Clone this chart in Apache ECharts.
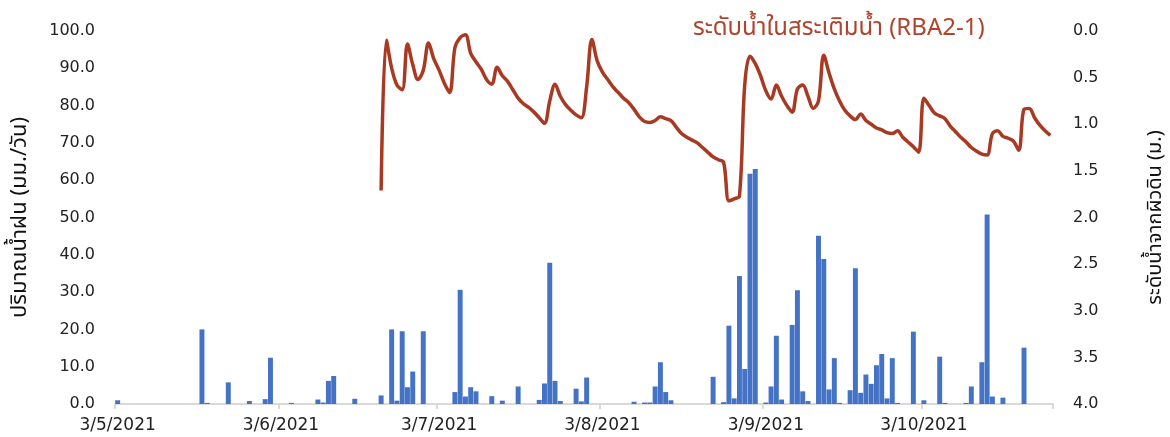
<!DOCTYPE html>
<html>
<head>
<meta charset="utf-8">
<script src="https://cdn.jsdelivr.net/npm/echarts@6/dist/echarts.min.js"></script>
<style>
  html, body { margin: 0; padding: 0; background: #fff; }
  #chart { width: 1170px; height: 437px; }
</style>
</head>
<body>
<div id="chart"></div>
<script>
// Daily series from 3 May 2021 to 27 Oct 2021 (178 days)
const startYear = 2021, startMonth = 5, startDay = 3, dayCount = 178;

// Daily rainfall (mm/day), keyed by day offset from the start date
const rainDays = [0, 16, 17, 21, 25, 28, 29, 33, 38, 39, 40, 41, 45, 50, 52, 53, 54, 55, 56, 58,
  64, 65, 66, 67, 68, 71, 73, 76, 80, 81, 82, 83, 84, 87, 88, 89, 98, 100, 101, 102, 103, 104, 105,
  113, 115, 116, 117, 118, 119, 120, 121, 123, 124, 125, 126, 128, 129, 130, 131, 133, 134, 135, 136, 137,
  139, 140, 141, 142, 143, 144, 145, 146, 147, 148, 151, 153, 156, 157, 161, 162, 164, 165, 166, 168, 172];
const rainValues = [1.0, 20.0, 0.3, 5.8, 0.8, 1.3, 12.4, 0.3, 1.2, 0.4, 6.2, 7.5, 1.4, 2.3, 20.0, 0.9, 19.5, 4.5, 8.7, 19.5,
  3.2, 30.6, 2.0, 4.5, 3.4, 2.1, 0.9, 4.7, 1.1, 5.5, 37.9, 6.2, 0.8, 4.1, 0.7, 7.1, 0.6, 0.4, 0.4, 4.7, 11.2, 3.2, 1.0,
  7.3, 0.5, 21.0, 1.5, 34.3, 9.4, 61.7, 63.0, 0.4, 4.7, 18.3, 1.2, 21.2, 30.5, 3.4, 0.8, 45.1, 38.9, 3.9, 12.3, 0.3,
  3.7, 36.4, 3.0, 7.9, 5.4, 10.4, 13.4, 1.5, 12.3, 0.3, 19.4, 1.0, 12.7, 0.3, 0.3, 4.7, 11.2, 50.8, 2.0, 1.7, 15.1];

// Water level below ground (m), recorded from day offset 50 onwards
const levelStart = 50;
const levelValues = [
  1.71, 0.10, 0.40, 0.58, 0.63, 0.14, 0.36, 0.52, 0.42, 0.13,
  0.30, 0.42, 0.56, 0.66, 0.18, 0.07, 0.04, 0.24, 0.33, 0.41,
  0.52, 0.57, 0.39, 0.48, 0.54, 0.63, 0.72, 0.78, 0.82, 0.87,
  0.93, 0.99, 0.75, 0.57, 0.70, 0.79, 0.85, 0.90, 0.93, 0.60,
  0.09, 0.32, 0.44, 0.52, 0.60, 0.66, 0.72, 0.77, 0.84, 0.92,
  0.97, 0.98, 0.96, 0.92, 0.94, 0.96, 1.03, 1.10, 1.14, 1.17,
  1.20, 1.25, 1.30, 1.35, 1.38, 1.41, 1.82, 1.80, 1.77, 0.58,
  0.27, 0.35, 0.48, 0.64, 0.73, 0.58, 0.70, 0.80, 0.87, 0.62,
  0.58, 0.70, 0.83, 0.75, 0.26, 0.45, 0.62, 0.75, 0.85, 0.91,
  0.95, 0.89, 0.96, 1.00, 1.04, 1.06, 1.09, 1.10, 1.07, 1.14,
  1.19, 1.24, 1.30, 0.72, 0.80, 0.88, 0.91, 0.94, 1.02, 1.08,
  1.14, 1.19, 1.25, 1.29, 1.32, 1.33, 1.10, 1.07, 1.13, 1.15,
  1.18, 1.28, 0.84, 0.83, 0.93, 1.01, 1.07, 1.12];

const titleText = 'ระดับน้ำในสระเติมน้ำ (RBA2-1)';
const leftAxisName = 'ปริมาณน้ำฝน (มม./วัน)';
const rightAxisName = 'ระดับน้ำจากผิวดิน (ม.)';

// Category labels in d/m/yyyy form
const categories = [];
for (let i = 0; i < dayCount; i++) {
  const dt = new Date(Date.UTC(startYear, startMonth - 1, startDay + i));
  categories.push(dt.getUTCDate() + '/' + (dt.getUTCMonth() + 1) + '/' + dt.getUTCFullYear());
}

const rain = new Array(dayCount).fill(0);
rainDays.forEach((d, k) => { rain[d] = rainValues[k]; });

const level = new Array(dayCount).fill(null);
levelValues.forEach((v, k) => { level[levelStart + k] = v; });

const isMonthTick = (idx, val) => val.split('/')[0] === '3';

const FONT = '"DejaVu Sans", "Noto Sans", sans-serif';
const THAI_FONT = '"Noto Sans Thai", "Noto Sans", "DejaVu Sans", sans-serif';

const chart = echarts.init(document.getElementById('chart'), null, { renderer: 'canvas' });
chart.setOption({
  animation: false,
  backgroundColor: '#ffffff',
  title: {
    text: titleText,
    left: 688,
    top: 13,
    textStyle: { color: '#B0432B', fontSize: 24, fontWeight: 'normal', fontFamily: THAI_FONT }
  },
  grid: { left: 115, right: 117, top: 31, bottom: 33, outerBoundsMode: 'none', containLabel: false },
  xAxis: {
    type: 'category',
    data: categories,
    boundaryGap: true,
    axisLine: { lineStyle: { color: '#D9D9D9', width: 2 } },
    axisTick: { show: true, interval: isMonthTick, length: 5, lineStyle: { color: '#D9D9D9', width: 2 } },
    axisLabel: { interval: isMonthTick, color: '#222', fontSize: 17, fontFamily: FONT, margin: 13 },
    splitLine: { show: false }
  },
  yAxis: [
    {
      type: 'value',
      min: 0, max: 100, interval: 10,
      name: leftAxisName,
      nameLocation: 'middle',
      nameRotate: 90,
      nameGap: 82,
      nameTextStyle: { color: '#111', fontSize: 22, fontFamily: THAI_FONT },
      axisLine: { show: false },
      axisTick: { show: false },
      splitLine: { show: false },
      axisLabel: { color: '#222', fontSize: 16, fontFamily: FONT, margin: 20, formatter: v => v.toFixed(1) }
    },
    {
      type: 'value',
      min: 0, max: 4, interval: 0.5,
      inverse: true,
      position: 'right',
      name: rightAxisName,
      nameLocation: 'middle',
      nameRotate: 90,
      nameGap: 94,
      nameTextStyle: { color: '#111', fontSize: 20, fontFamily: THAI_FONT },
      axisLine: { show: false },
      axisTick: { show: false },
      splitLine: { show: false },
      axisLabel: { color: '#222', fontSize: 16, fontFamily: FONT, margin: 20, formatter: v => v.toFixed(1) }
    }
  ],
  series: [
    {
      name: leftAxisName,
      type: 'bar',
      yAxisIndex: 0,
      data: rain,
      barCategoryGap: '6%',
      itemStyle: { color: '#4472C4' }
    },
    {
      name: rightAxisName,
      type: 'line',
      yAxisIndex: 1,
      data: level,
      smooth: 0.35,
      showSymbol: false,
      connectNulls: false,
      lineStyle: { color: '#A83A24', width: 3.5 },
      z: 5
    }
  ]
});
</script>
</body>
</html>
